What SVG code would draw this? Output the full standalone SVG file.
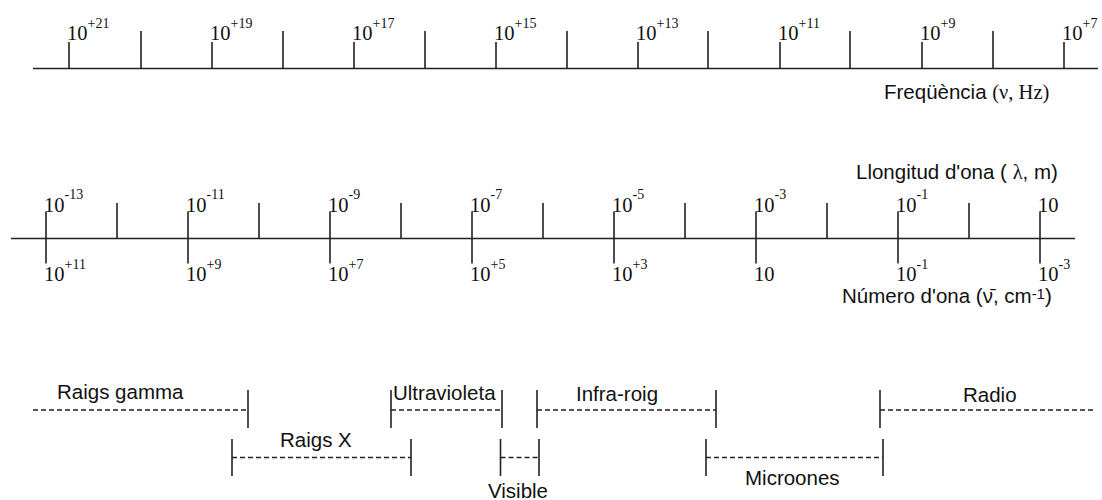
<svg xmlns="http://www.w3.org/2000/svg" width="1102" height="500" viewBox="0 0 1102 500">
<style>
.ax{stroke:#222;stroke-width:1.6;fill:none}
.dash{stroke:#222;stroke-width:1.3;stroke-dasharray:5 3;fill:none}
.num{font-family:"Liberation Serif","Times New Roman",serif;font-size:20.5px;fill:#111}
.sup{font-size:14px}
.lbl{font-family:"Liberation Sans",Arial,sans-serif;font-size:20.5px;fill:#111}
.ser{font-family:"Liberation Serif","Times New Roman",serif}
</style>
<rect width="1102" height="500" fill="#fff"/>

<g id="freq-axis">
  <path class="ax" d="M33 68.5H1098
    M69 42V68.5 M141 31V68.5 M212 42V68.5 M283 31V68.5 M354 42V68.5 M425 31V68.5 M496 42V68.5 M567 31V68.5
    M638 42V68.5 M708 31V68.5 M780 42V68.5 M850 31V68.5 M922 42V68.5 M993 31V68.5 M1064 42V68.5"/>
  <g class="num">
    <text x="67" y="40">10<tspan class="sup" dy="-12">+21</tspan></text>
    <text x="210" y="40">10<tspan class="sup" dy="-12">+19</tspan></text>
    <text x="352" y="40">10<tspan class="sup" dy="-12">+17</tspan></text>
    <text x="494" y="40">10<tspan class="sup" dy="-12">+15</tspan></text>
    <text x="636" y="40">10<tspan class="sup" dy="-12">+13</tspan></text>
    <text x="778" y="40">10<tspan class="sup" dy="-12">+11</tspan></text>
    <text x="920" y="40">10<tspan class="sup" dy="-12">+9</tspan></text>
    <text x="1062" y="40">10<tspan class="sup" dy="-12">+7</tspan></text>
  </g>
  <text class="lbl" x="884" y="99">Freqüència <tspan class="ser">(ν, Hz)</tspan></text>
</g>

<g id="wave-axis">
  <path class="ax" d="M11 238.5H1075
    M46 211.5V263.5 M117 203V238.5 M188 211.5V263.5 M259 203V238.5 M330 211.5V263.5 M401 203V238.5 M472 211.5V263.5 M543 203V238.5
    M614 211.5V263.5 M685 203V238.5 M756 211.5V263.5 M827 203V238.5 M898 211.5V263.5 M969 203V238.5 M1040 211.5V263.5"/>
  <g class="num">
    <text x="44" y="211.5">10<tspan class="sup" dy="-13">-13</tspan></text>
    <text x="186" y="211.5">10<tspan class="sup" dy="-13">-11</tspan></text>
    <text x="328" y="211.5">10<tspan class="sup" dy="-13">-9</tspan></text>
    <text x="470" y="211.5">10<tspan class="sup" dy="-13">-7</tspan></text>
    <text x="612" y="211.5">10<tspan class="sup" dy="-13">-5</tspan></text>
    <text x="754" y="211.5">10<tspan class="sup" dy="-13">-3</tspan></text>
    <text x="896" y="211.5">10<tspan class="sup" dy="-13">-1</tspan></text>
    <text x="1038" y="211.5">10</text>

    <text x="44" y="281">10<tspan class="sup" dy="-12.5">+11</tspan></text>
    <text x="186" y="281">10<tspan class="sup" dy="-12.5">+9</tspan></text>
    <text x="328" y="281">10<tspan class="sup" dy="-12.5">+7</tspan></text>
    <text x="470" y="281">10<tspan class="sup" dy="-12.5">+5</tspan></text>
    <text x="612" y="281">10<tspan class="sup" dy="-12.5">+3</tspan></text>
    <text x="754" y="281">10</text>
    <text x="896" y="281">10<tspan class="sup" dy="-12.5">-1</tspan></text>
    <text x="1038" y="281">10<tspan class="sup" dy="-12.5">-3</tspan></text>
  </g>
  <text class="lbl" x="856" y="178.5">Llongitud d'ona ( <tspan class="ser">λ</tspan>, m)</text>
  <text class="lbl" x="842" y="303">Número d'ona (ν̄, cm<tspan font-size="15" dy="-4">-1</tspan><tspan dy="4">)</tspan></text>
</g>

<g id="range-gamma">
  <path class="dash" d="M33 410H248"/>
  <path class="ax" d="M248 390V428"/>
  <text class="lbl" x="57" y="398.5">Raigs gamma</text>
</g>
<g id="range-x">
  <path class="dash" d="M232 457.5H411"/>
  <path class="ax" d="M232 439V476 M411 439V476"/>
  <text class="lbl" x="280" y="447">Raigs X</text>
</g>
<g id="range-uv">
  <path class="dash" d="M391 410H502"/>
  <path class="ax" d="M391 390V428 M502 390V428"/>
  <text class="lbl" x="393" y="399.5">Ultravioleta</text>
</g>
<g id="range-visible">
  <path class="dash" d="M500.5 457.5H539"/>
  <path class="ax" d="M500.5 439V476 M539 439V476"/>
  <text class="lbl" x="488" y="498">Visible</text>
</g>
<g id="range-ir">
  <path class="dash" d="M537 410H716"/>
  <path class="ax" d="M537 390V428 M716 390V428"/>
  <text class="lbl" x="576" y="400.5">Infra-roig</text>
</g>
<g id="range-micro">
  <path class="dash" d="M706 457.5H883"/>
  <path class="ax" d="M706 439V476 M883 439V476"/>
  <text class="lbl" x="745" y="485">Microones</text>
</g>
<g id="range-radio">
  <path class="dash" d="M880 410H1095"/>
  <path class="ax" d="M880 390V428"/>
  <text class="lbl" x="963" y="401.5">Radio</text>
</g>
<g id="connectors"></g>
</svg>
